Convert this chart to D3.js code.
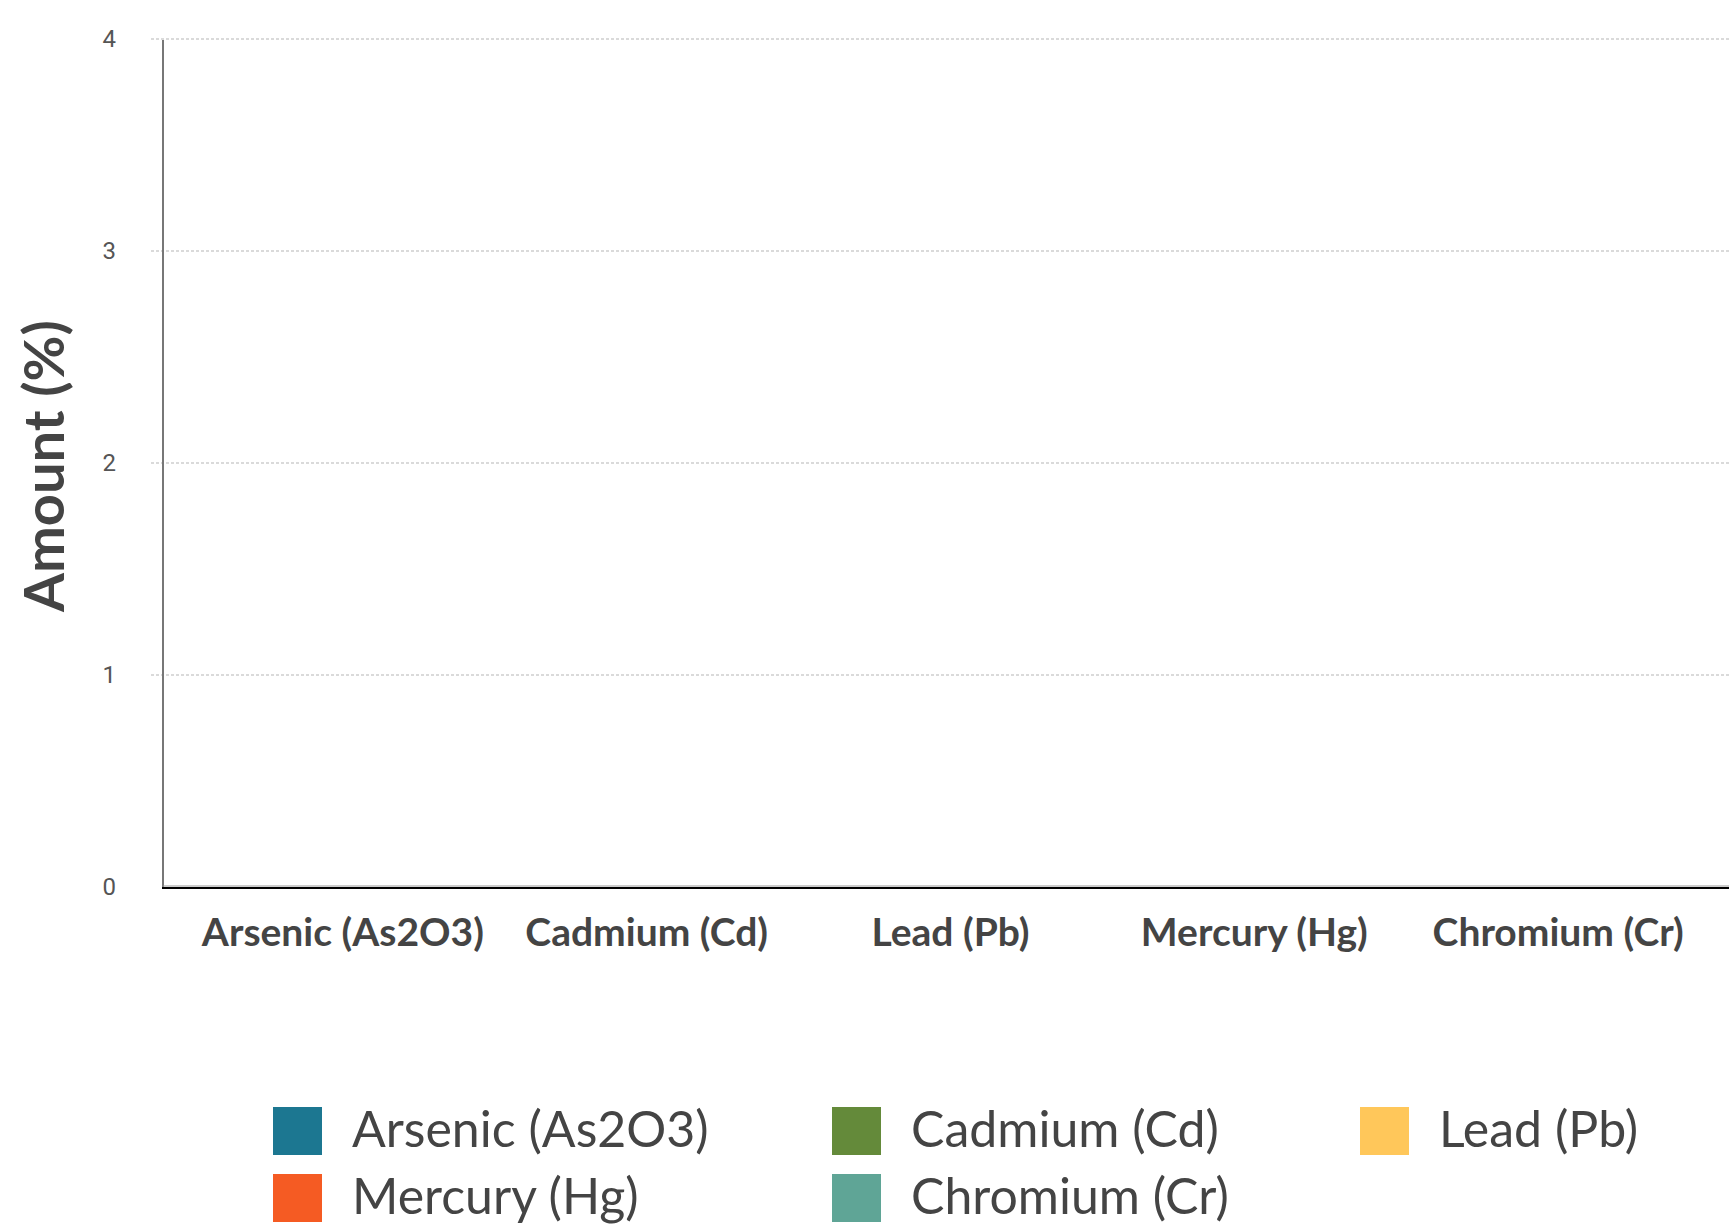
<!DOCTYPE html>
<html>
<head>
<meta charset="utf-8">
<script src="https://cdn.jsdelivr.net/npm/d3@7"></script>
<style>
  body { margin: 0; background: #fff; }
  text { font-family: Lato, "Open Sans", sans-serif; }
</style>
</head>
<body>
<script>
// chart data
var categories = ["Arsenic (As2O3)", "Cadmium (Cd)", "Lead (Pb)", "Mercury (Hg)", "Chromium (Cr)"];
var amounts = [0, 0, 0, 0, 0];
var colors = ["#1c7791", "#648a3a", "#ffc75a", "#f55b23", "#5fa596"];
var yTicks = [0, 1, 2, 3, 4];

var w = 1729;
var h = 1226;

var svg = d3.select("body")
  .append("svg")
  .attr("width", w)
  .attr("height", h);

var yScale = d3.scaleLinear()
  .domain([0, 4])
  .range([887, 39]);

var xScale = d3.scaleBand()
  .domain(categories)
  .range([191, 1710])
  .paddingInner(0.2)
  .paddingOuter(0.1);

var color = d3.scaleOrdinal()
  .domain(categories)
  .range(colors);

// dashed gridlines
svg.append("g")
  .selectAll("line")
  .data(yTicks.filter(function(d) { return d > 0; }))
  .enter()
  .append("line")
  .attr("x1", 151)
  .attr("x2", w)
  .attr("y1", function(d) { return yScale(d); })
  .attr("y2", function(d) { return yScale(d); })
  .attr("stroke", "#b5b5b5")
  .attr("stroke-width", 1)
  .attr("stroke-dasharray", "3,2");

// y axis
var yAxis = d3.axisLeft(yScale)
  .tickValues(yTicks)
  .tickSize(0)
  .tickPadding(47)
  .tickFormat(d3.format("d"));

var yG = svg.append("g")
  .attr("transform", "translate(163,0)")
  .call(yAxis);
yG.select(".domain").remove();
yG.selectAll("text")
  .attr("fill", "#555")
  .style("font-family", "Roboto, sans-serif")
  .style("font-size", "24px");

// bars
svg.append("g")
  .selectAll("rect")
  .data(amounts)
  .enter()
  .append("rect")
  .attr("x", function(d, i) { return xScale(categories[i]); })
  .attr("y", function(d) { return yScale(d); })
  .attr("width", xScale.bandwidth())
  .attr("height", function(d) { return yScale(0) - yScale(d); })
  .attr("fill", function(d, i) { return color(categories[i]); });

// plot frame left + bottom
svg.append("line")
  .attr("x1", 163).attr("x2", 163)
  .attr("y1", 40).attr("y2", 887)
  .attr("stroke", "#777")
  .attr("stroke-width", 2);
svg.append("line")
  .attr("x1", 163).attr("x2", w)
  .attr("y1", 886).attr("y2", 886)
  .attr("stroke", "#999")
  .attr("stroke-width", 1);

// x axis
var xAxis = d3.axisBottom(xScale)
  .tickSize(0)
  .tickPadding(31);

var xG = svg.append("g")
  .attr("transform", "translate(0,887)")
  .call(xAxis);
xG.select(".domain").remove();
xG.selectAll("text")
  .attr("fill", "#444")
  .style("font-family", "Lato, sans-serif")
  .style("font-weight", "bold")
  .style("font-size", "39px");

svg.append("line")
  .attr("x1", 162).attr("x2", w)
  .attr("y1", 888).attr("y2", 888)
  .attr("stroke", "#000")
  .attr("stroke-width", 2);

// y axis title
svg.append("text")
  .attr("transform", "translate(64,466) rotate(-90)")
  .attr("text-anchor", "middle")
  .attr("fill", "#444")
  .style("font-weight", "bold")
  .style("font-size", "56px")
  .text("Amount (%)");

// legend
var legendX = [273, 832, 1360];
var legendY = [1107, 1174];

var legend = svg.selectAll(".legend")
  .data(categories)
  .enter()
  .append("g")
  .attr("class", "legend")
  .attr("transform", function(d, i) {
    return "translate(" + legendX[i % 3] + "," + legendY[Math.floor(i / 3)] + ")";
  });

legend.append("rect")
  .attr("width", 49)
  .attr("height", 48)
  .attr("fill", function(d) { return color(d); });

legend.append("text")
  .attr("x", 79)
  .attr("y", 40)
  .attr("fill", "#444")
  .style("font-size", "50px")
  .text(function(d) { return d; });
</script>
</body>
</html>
